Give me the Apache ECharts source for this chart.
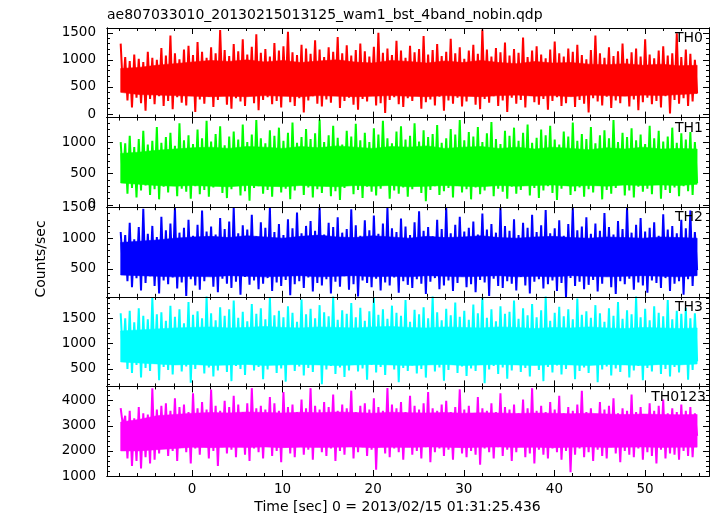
<!DOCTYPE html>
<html><head><meta charset="utf-8">
<script src="https://cdn.jsdelivr.net/npm/echarts@6/dist/echarts.min.js"></script>
<style>html,body{margin:0;padding:0;background:#fff}#c{width:717px;height:516px}</style>
</head><body><div id="c"></div><script>
// ---------- data ----------
const titleText = 'ae807033010_20130215013125_wam1_bst_4band_nobin.qdp';
const xName = 'Time [sec] 0 = 2013/02/15 01:31:25.436';
const yName = 'Counts/sec';
const panelNames = ['TH0', 'TH1', 'TH2', 'TH3', 'TH0123'];
const panelColors = ['#ff0000', '#00ff00', '#0000ff', '#00ffff', '#ff00ff'];
const yMin = [-66, -35, 45, 156, 1000];
const yMax = [1588, 1390, 1505, 1925, 4570];
const yMajorTicks = [[0, 500, 1000, 1500], [0, 500, 1000], [500, 1000, 1500], [500, 1000, 1500], [1000, 2000, 3000, 4000]];
const yMinorStep = [100, 100, 100, 100, 200];
const xMin = -9.38, xMax = 57.06;
const xMajorTicks = [0, 10, 20, 30, 40, 50];
const xMinorStep = 2;
const tStart = -7.87, tEnd = 55.75;

// spike extremes (alternating high / low samples, one pair every ~0.5 s)
const th0Hi = [1300,1050,980,1100,1020,960,1150,1040,1000,1220,1080,1450,1120,1010,1190,1260,1090,1330,1150,1040,1230,1120,1550,1180,1070,1290,1160,1380,1100,1240,1470,1130,1200,1060,1310,1170,1250,1520,1140,1090,1280,1210,1110,1360,1190,1050,1230,1150,1420,1120,1270,1080,1180,1300,1160,1060,1240,1500,1130,1210,1090,1350,1170,1040,1260,1140,1200,1440,1100,1180,1290,1070,1150,1390,1120,1230,1020,1170,1280,1110,1560,1190,1060,1220,1140,1320,1080,1200,1130,1410,1050,1170,1250,1100,1030,1190,1340,1120,1060,1210,1150,1280,1090,1010,1180,1450,1120,1040,1230,1070,1160,1300,1020,1140,1210,1060,1380,1100,1030,1170,1250,1080,1120,1490,1050,1190,1110,1000];
const th0Lo = [450,250,120,300,200,60,280,180,330,150,240,90,310,210,160,350,40,270,190,320,130,260,380,170,100,290,230,150,340,200,70,260,310,180,240,120,370,220,150,290,30,250,330,190,140,270,210,360,110,240,300,170,80,280,230,340,160,200,20,260,310,180,130,290,240,350,100,220,270,160,320,60,250,190,300,140,230,380,170,90,280,210,330,150,250,40,300,190,260,120,340,220,170,280,80,240,310,150,200,350,130,260,190,30,290,230,160,320,110,250,200,340,140,270,70,220,300,180,240,120,330,10,260,190,290,150,230,380];

const th1Hi = [1000,980,1100,920,1050,1180,960,1020,1240,990,1080,1150,940,1300,1030,1110,970,1200,1060,1340,1010,1130,1250,950,1090,1170,1040,1280,1000,1120,1350,1060,980,1190,1100,1230,1020,1150,1310,990,1080,1210,1050,1140,1360,1000,1110,1260,1070,960,1180,1090,1290,1030,1150,1000,1220,1120,1340,1060,980,1170,1250,1040,1100,1300,1010,1190,1080,1130,1270,990,1060,1210,1120,1350,1030,1160,1090,1240,1000,1140,1320,1050,970,1180,1100,1230,1020,1150,1280,990,1070,1200,1110,1260,1040,960,1170,1090,1310,1020,1130,1050,1240,980,1110,1190,1060,1350,1000,1150,1080,1220,1030,1120,970,1260,1060,1180,1010,1090,1230,990,1140,1040,1160,1000];
const th1Lo = [400,180,270,120,230,310,160,250,90,290,200,340,140,260,210,100,300,170,240,130,280,360,190,110,250,320,150,220,70,270,300,180,240,130,310,200,260,90,230,340,160,280,120,250,190,300,140,220,80,270,330,170,240,110,290,210,150,260,320,100,230,180,280,130,250,350,190,60,240,300,160,220,270,120,310,200,250,90,280,170,230,330,140,260,210,100,290,180,240,320,150,270,110,230,300,190,80,260,340,160,220,280,130,250,200,310,90,240,180,270,350,150,230,120,290,210,260,170,320,100,240,190,280,140,300,220,160,350];

const th2Hi = [1100,1050,1250,980,1180,1480,1070,1200,1020,1350,1130,1240,1500,1090,1170,1300,1040,1220,1450,1110,1190,1060,1330,1150,1270,1500,1080,1210,1140,1380,1030,1260,1170,1490,1100,1230,1050,1310,1160,1420,1080,1200,1280,1120,1500,1060,1250,1180,1340,1090,1150,1470,1210,1040,1290,1130,1370,1070,1240,1500,1160,1100,1320,1190,1050,1260,1440,1120,1180,1030,1300,1150,1500,1080,1220,1350,1110,1170,1270,1060,1400,1140,1230,1090,1490,1200,1120,1310,1050,1250,1170,1380,1100,1210,1460,1080,1160,1290,1040,1230,1500,1130,1190,1340,1070,1240,1120,1410,1180,1060,1280,1150,1500,1090,1220,1330,1110,1170,1260,1040,1390,1140,1200,1080,1300,1160,1450,1100];
const th2Lo = [500,300,200,350,150,270,380,220,100,310,250,360,180,280,60,330,230,160,300,390,210,120,340,260,190,290,80,370,240,310,170,260,350,140,280,220,320,70,250,300,190,360,130,270,230,330,100,290,210,380,160,250,50,310,270,200,340,150,280,230,360,110,300,240,190,330,260,90,290,350,170,230,310,140,270,380,200,250,120,320,280,60,340,220,190,300,260,150,370,230,100,290,330,180,250,310,140,270,40,350,220,290,170,240,320,130,260,380,200,90,300,250,340,160,280,230,110,310,270,190,350,140,260,300,80,330,220,480];

const th3Hi = [1600,1500,1650,1420,1700,1550,1480,1900,1580,1620,1450,1750,1530,1680,1400,1820,1570,1640,1500,1930,1600,1460,1720,1550,1680,1850,1510,1630,1440,1780,1590,1700,1480,1920,1560,1650,1520,1740,1610,1430,1870,1580,1690,1500,1760,1620,1540,1930,1470,1660,1590,1800,1520,1710,1450,1640,1900,1570,1680,1490,1750,1610,1550,1860,1430,1670,1580,1720,1500,1930,1620,1460,1690,1560,1810,1530,1650,1470,1770,1600,1920,1510,1680,1440,1740,1590,1630,1850,1490,1700,1560,1780,1520,1660,1930,1450,1610,1730,1540,1680,1480,1890,1570,1640,1510,1760,1600,1430,1700,1550,1820,1490,1660,1580,1930,1520,1690,1460,1740,1610,1540,1860,1480,1650,1590,1710,1500,1600];
const th3Lo = [700,500,420,580,330,520,460,610,280,540,480,390,620,450,550,230,500,590,410,530,350,470,600,440,260,560,500,380,630,470,540,300,490,580,420,510,250,600,460,550,370,520,440,610,200,490,560,400,530,340,470,620,450,510,290,580,430,540,380,600,490,240,520,460,570,410,500,330,610,450,530,270,480,590,420,550,360,510,460,620,220,490,560,400,530,310,470,580,440,520,350,600,480,260,540,430,570,390,500,610,300,460,530,420,580,240,490,550,370,510,440,600,330,470,560,280,520,450,590,400,500,350,540,430,610,290,480,650];

const th0123Hi = [3700,3400,3600,3300,3750,3500,3450,4500,3650,3800,3900,3600,4100,3750,3850,3550,4300,3700,3950,3650,4450,3800,3600,4000,3750,4200,3850,3550,3900,4500,3700,3800,3650,4150,3900,3600,4350,3750,3850,3550,4050,3700,4500,3800,3650,3950,3750,4250,3600,3850,3700,4400,3550,3800,3900,3650,4100,3750,3600,4500,3850,3700,3950,3550,4200,3800,3650,3900,4350,3700,3600,3850,4000,3550,3750,4450,3650,3800,3500,4150,3700,3600,3900,3550,4300,3750,3650,3850,3500,4050,3700,4500,3600,3800,3550,3950,3650,4200,3500,3750,3600,3850,4400,3550,3700,3450,3950,3650,3800,4100,3500,3700,3600,4250,3550,3750,3450,3900,3600,3800,4050,3500,3700,3550,3850,3600,3750,3500];
const th0123Lo = [3000,1700,1400,1600,1300,1750,1500,1650,1900,2100,1800,2000,1600,2200,1950,1500,2100,1850,2250,1700,2000,1400,2150,1900,2050,1750,2300,1850,1600,2100,1950,1700,2200,1800,2000,1550,2150,1900,1750,2250,1850,2050,1650,2200,1950,1800,2100,1600,2000,1850,2300,1700,1950,2150,1800,2050,1250,2200,1900,1750,2100,1950,1650,2250,1850,2000,1700,2150,1550,1950,2100,1800,2050,1650,2200,1900,1750,2000,1850,1450,2100,1950,1700,2150,1800,2050,1600,1950,2200,1750,1900,1500,2050,1850,1700,2100,1950,1650,2000,1150,1850,2100,1750,1950,1600,2050,1800,1700,2150,1900,1550,2000,1850,1750,2100,1650,1950,1800,1500,2050,1700,1900,1850,1650,2000,1800,1750,2600];

// dense core of each light curve (upper / lower edge of the solid band, every ~2 s)
const th0CoreHi = [840,860,900,930,960,990,970,1000,960,990,950,980,1000,960,940,990,970,940,980,950,990,950,930,970,940,950,920,910,930,900,920,890,900];
const th0CoreLo = [400,360,350,340,330,320,330,320,340,330,320,340,330,320,330,340,330,320,340,330,320,340,350,330,340,320,350,340,330,350,340,360,380];
const th1CoreHi = [820,840,870,890,910,920,900,930,920,900,930,910,940,920,900,930,920,940,900,920,930,900,920,890,920,900,880,910,890,920,890,900,890];
const th1CoreLo = [350,330,310,300,310,300,290,310,300,290,310,300,290,310,300,310,290,300,310,300,290,310,300,310,320,300,310,300,320,310,320,310,330];
const th2CoreHi = [930,950,970,1000,1020,1030,1010,1040,1020,1000,1030,1050,1020,1010,1040,1020,1000,1030,1010,1020,1040,1010,1000,1020,1030,1010,1000,1020,1010,1000,1020,1010,1000];
const th2CoreLo = [400,390,380,370,380,370,390,380,370,380,390,370,380,390,370,380,370,390,380,370,380,390,370,380,370,390,380,370,380,390,380,370,390];
const th3CoreHi = [1250,1270,1290,1310,1320,1330,1310,1320,1340,1320,1310,1330,1320,1310,1330,1340,1320,1310,1330,1320,1310,1330,1320,1300,1320,1310,1330,1310,1300,1320,1310,1300,1310];
const th3CoreLo = [640,620,600,580,590,570,580,590,570,580,590,580,570,580,590,580,570,580,590,570,580,590,580,570,590,580,570,590,580,570,590,580,600];
const th0123CoreHi = [3150,3250,3400,3450,3500,3530,3510,3550,3530,3510,3540,3520,3550,3530,3500,3540,3520,3510,3530,3500,3520,3510,3490,3510,3500,3480,3500,3470,3450,3470,3450,3440,3450];
const th0123CoreLo = [2000,2000,2050,2100,2150,2130,2150,2140,2160,2130,2150,2140,2150,2160,2130,2150,2140,2160,2150,2130,2150,2160,2140,2150,2130,2150,2160,2140,2150,2160,2140,2150,2150];

const panelHi = [th0Hi, th1Hi, th2Hi, th3Hi, th0123Hi];
const panelLo = [th0Lo, th1Lo, th2Lo, th3Lo, th0123Lo];
const panelCoreHi = [th0CoreHi, th1CoreHi, th2CoreHi, th3CoreHi, th0123CoreHi];
const panelCoreLo = [th0CoreLo, th1CoreLo, th2CoreLo, th3CoreLo, th0123CoreLo];

// ---------- layout / style ----------
const FONT = '"DejaVu Sans", "Liberation Sans", sans-serif';
const gridLeft = 107, gridRight = 8, gridTop = 28, gridH = 89.6;

function zigzag(hi, lo) {
  const n = Math.min(hi.length, lo.length);
  const total = 2 * n, out = [];
  for (let k = 0; k < n; k++) {
    out.push([tStart + (2 * k) * (tEnd - tStart) / (total - 1), hi[k]]);
    out.push([tStart + (2 * k + 1) * (tEnd - tStart) / (total - 1), lo[k]]);
  }
  return out;
}
function bandData(hi, lo) {
  const n = Math.min(hi.length, lo.length), out = [];
  for (let k = 0; k < n; k++) out.push([tStart + k * (tEnd - tStart) / (n - 1), lo[k], hi[k]]);
  return out;
}
function stepsBetween(a, b, step, exclude) {
  const r = [];
  for (let v = Math.ceil(a / step) * step; v <= b; v += step) if (!exclude.includes(v)) r.push(v);
  return r;
}
const xMinor = stepsBetween(xMin, xMax, xMinorStep, xMajorTicks);

const grids = [], xAxes = [], yAxes = [], series = [], graphics = [];
function xAx(i, pos, ticks, len, showLabels) {
  return {
    type: 'value', gridIndex: i, position: pos, min: xMin, max: xMax,
    axisLine: { show: true, onZero: false, lineStyle: { color: '#000', width: 1 } },
    axisTick: { show: true, inside: true, length: len, customValues: ticks, lineStyle: { color: '#000', width: 1 } },
    axisLabel: { show: showLabels, customValues: xMajorTicks, formatter: v => String(v), color: '#000', fontFamily: FONT, fontSize: 13.5, margin: 6 },
    splitLine: { show: false }, z: 5
  };
}
function yAx(i, pos, ticks, len, showLabels) {
  return {
    type: 'value', gridIndex: i, position: pos, min: yMin[i], max: yMax[i],
    axisLine: { show: true, onZero: false, lineStyle: { color: '#000', width: 1 } },
    axisTick: { show: true, inside: true, length: len, customValues: ticks, lineStyle: { color: '#000', width: 1 } },
    axisLabel: { show: showLabels, customValues: yMajorTicks[i], formatter: v => String(v), color: '#000', fontFamily: FONT, fontSize: 13.5, margin: 11 },
    splitLine: { show: false }, z: 5
  };
}

panelNames.forEach((name, i) => {
  const top = gridTop + i * gridH;
  const color = panelColors[i];
  grids.push({ left: gridLeft, right: gridRight, top: top, height: gridH, containLabel: false });
  xAxes.push(xAx(i, 'bottom', xMajorTicks, 6, i === panelNames.length - 1));
  xAxes.push(xAx(i, 'bottom', xMinor, 3, false));
  xAxes.push(xAx(i, 'top', xMajorTicks, 6, false));
  xAxes.push(xAx(i, 'top', xMinor, 3, false));
  const yMinorT = stepsBetween(yMin[i], yMax[i], yMinorStep[i], yMajorTicks[i]);
  yAxes.push(yAx(i, 'left', yMajorTicks[i], 6, true));
  yAxes.push(yAx(i, 'left', yMinorT, 3, false));
  yAxes.push(yAx(i, 'right', yMajorTicks[i], 6, false));
  yAxes.push(yAx(i, 'right', yMinorT, 3, false));
  const d = bandData(panelCoreHi[i], panelCoreLo[i]);
  series.push({
    type: 'custom', xAxisIndex: i * 4, yAxisIndex: i * 4,
    data: d, encode: { x: 0, y: [1, 2] },
    clip: true, silent: true, animation: false, z: 1,
    renderItem: function (params, api) {
      if (params.dataIndex !== 0) return null;
      const pts = [];
      for (let k = 0; k < d.length; k++) pts.push(api.coord([d[k][0], d[k][2]]));
      for (let k = d.length - 1; k >= 0; k--) pts.push(api.coord([d[k][0], d[k][1]]));
      return { type: 'polygon', shape: { points: pts }, style: { fill: color, stroke: color, lineWidth: 0.6 } };
    }
  });
  series.push({
    type: 'line', xAxisIndex: i * 4, yAxisIndex: i * 4,
    data: zigzag(panelHi[i], panelLo[i]),
    symbol: 'none', showSymbol: false, silent: true, animation: false, clip: true,
    lineStyle: { color: color, width: 2, join: 'miter', miterLimit: 3 }, itemStyle: { color: color }, z: 2
  });
  graphics.push({
    type: 'text', x: i === 4 ? 706 : 703, y: top + 10.5, z: 100,
    style: { text: name, fill: '#000', font: '14px ' + FONT, align: 'right', verticalAlign: 'middle' }
  });
});

graphics.push({ type: 'text', x: 107, y: 15.5, z: 100,
  style: { text: titleText, fill: '#000', font: '14px ' + FONT, align: 'left', verticalAlign: 'middle' } });
graphics.push({ type: 'text', x: 397.5, y: 507, z: 100,
  style: { text: xName, fill: '#000', font: '14px ' + FONT, align: 'center', verticalAlign: 'middle' } });
graphics.push({ type: 'text', x: 41, y: 259, rotation: Math.PI / 2, z: 100,
  style: { text: yName, fill: '#000', font: '14px ' + FONT, align: 'center', verticalAlign: 'middle' } });

const chart = echarts.init(document.getElementById('c'), null, { renderer: 'canvas' });
chart.setOption({
  animation: false,
  backgroundColor: '#fff',
  grid: grids, xAxis: xAxes, yAxis: yAxes, series: series, graphic: graphics
});
</script></body></html>
